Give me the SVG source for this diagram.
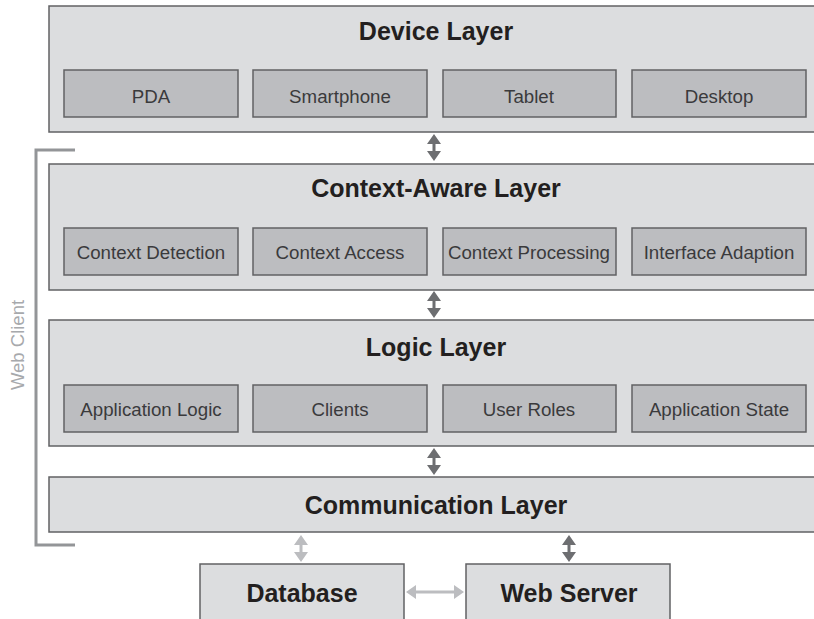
<svg xmlns="http://www.w3.org/2000/svg" width="814" height="619" viewBox="0 0 814 619">
<style>
.layer{fill:#dcdddf;stroke:#616264;stroke-width:1.5}
.box{fill:#bcbdc0;stroke:#616264;stroke-width:1.5}
.title{font-family:"Liberation Sans",Arial,sans-serif;font-weight:bold;font-size:25px;fill:#231f20;text-anchor:middle}
.lbl{font-family:"Liberation Sans",Arial,sans-serif;font-size:18.7px;fill:#3a3a3c;text-anchor:middle}
.dark{fill:#6d6e71}
.light{fill:#bcbdc0}
</style>
<defs>
<g id="varrow">
<polygon points="0,0 7,10 1.5,10 1.5,17 7,17 0,27 -7,17 -1.5,17 -1.5,10 -7,10"/>
</g>
</defs>
<rect width="814" height="619" fill="#fff"/>

<g id="web-client">
<polyline points="75,150 36,150 36,545 75,545" fill="none" stroke="#939598" stroke-width="3"/>
<text transform="translate(24,345) rotate(-90)" font-family="Liberation Sans,Arial,sans-serif" font-size="18.5" fill="#a7a9ac" text-anchor="middle">Web Client</text>
</g>

<g id="device-layer">
<rect class="layer" x="49" y="6" width="790" height="126"/>
<text class="title" x="436" y="40">Device Layer</text>
<g id="pda"><rect class="box" x="64" y="70" width="174" height="47"/><text class="lbl" x="151" y="103">PDA</text></g>
<g id="smartphone"><rect class="box" x="253" y="70" width="174" height="47"/><text class="lbl" x="340" y="103">Smartphone</text></g>
<g id="tablet"><rect class="box" x="443" y="70" width="173" height="47"/><text class="lbl" x="529" y="103">Tablet</text></g>
<g id="desktop"><rect class="box" x="632" y="70" width="174" height="47"/><text class="lbl" x="719" y="103">Desktop</text></g>
</g>

<g id="context-aware-layer">
<rect class="layer" x="49" y="164" width="790" height="126"/>
<text class="title" x="436" y="197">Context-Aware Layer</text>
<g id="context-detection"><rect class="box" x="64" y="228" width="174" height="47"/><text class="lbl" x="151" y="259">Context Detection</text></g>
<g id="context-access"><rect class="box" x="253" y="228" width="174" height="47"/><text class="lbl" x="340" y="259">Context Access</text></g>
<g id="context-processing"><rect class="box" x="443" y="228" width="173" height="47"/><text class="lbl" x="529" y="259">Context Processing</text></g>
<g id="interface-adaption"><rect class="box" x="632" y="228" width="174" height="47"/><text class="lbl" x="719" y="259">Interface Adaption</text></g>
</g>

<g id="logic-layer">
<rect class="layer" x="49" y="320" width="790" height="126"/>
<text class="title" x="436" y="356">Logic Layer</text>
<g id="application-logic"><rect class="box" x="64" y="385" width="174" height="47"/><text class="lbl" x="151" y="416">Application Logic</text></g>
<g id="clients"><rect class="box" x="253" y="385" width="174" height="47"/><text class="lbl" x="340" y="416">Clients</text></g>
<g id="user-roles"><rect class="box" x="443" y="385" width="173" height="47"/><text class="lbl" x="529" y="416">User Roles</text></g>
<g id="application-state"><rect class="box" x="632" y="385" width="174" height="47"/><text class="lbl" x="719" y="416">Application State</text></g>
</g>

<g id="communication-layer">
<rect class="layer" x="49" y="477" width="790" height="55"/>
<text class="title" x="436" y="514">Communication Layer</text>
</g>

<g id="database">
<rect class="layer" x="200" y="564" width="204" height="70"/>
<text class="title" x="302" y="602" font-size="27.5">Database</text>
</g>

<g id="web-server">
<rect class="layer" x="466" y="564" width="204" height="70"/>
<text class="title" x="569" y="602" font-size="27.5">Web Server</text>
</g>

<g id="connectors">
<use href="#varrow" x="434" y="134" class="dark"/>
<use href="#varrow" x="434" y="291" class="dark"/>
<use href="#varrow" x="434" y="448" class="dark"/>
<use href="#varrow" x="301" y="535" class="light"/>
<use href="#varrow" x="569" y="535" class="dark"/>
<polygon class="light" points="406,592 416,585 416,590.5 454,590.5 454,585 464,592 454,599 454,593.5 416,593.5 416,599"/>
</g>
</svg>
